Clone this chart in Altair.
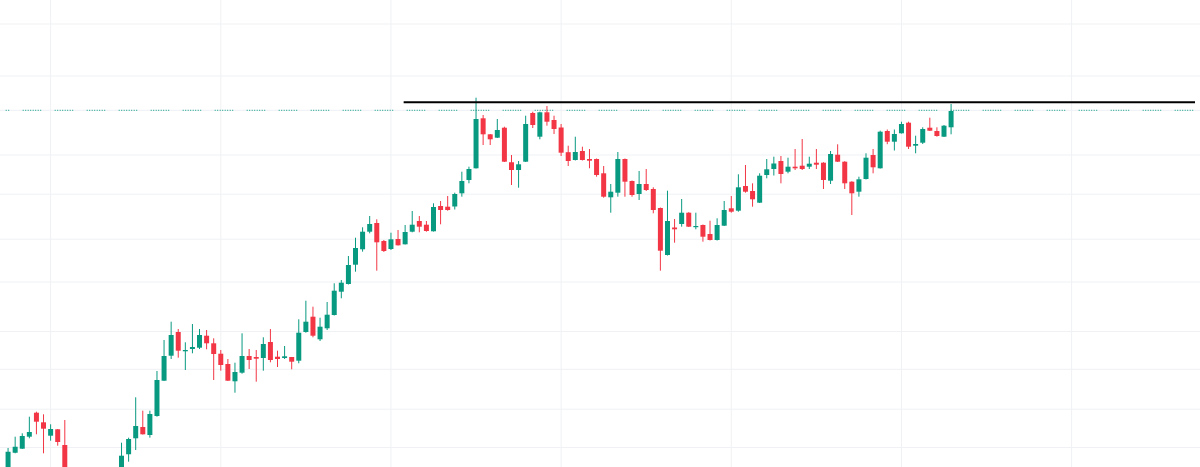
import altair as alt
import pandas as pd

# ---- candle data (index = bar number) ----
opens = [
    28, 47.3, 51.3, 63.3, 87.3, 77.7, 64.3, 70.7, 55, 20,
    5, 15, 0, -10, 2, 13, 28, 45.7, 61.7, 73,
    65, 84, 119.3, 144.3, 168, 148.7, 151, 152.3, 164.3, 156.7,
    146.3, 136, 118.7, 127.3, 144, 143, 142, 158, 143.3, 142,
    143, 139.3, 168, 183.3, 160.7, 171.7, 185, 208.3, 216, 235.3,
    250.7, 268.3, 277, 259, 251, 261, 255.7, 268.3, 279, 275.3,
    268.7, 294, 293.3, 293.5, 306.7, 320, 331.7, 381.7, 365.7, 362.3,
    372.3, 337.7, 330, 338.3, 387, 363.3, 387.7, 380, 372.5, 347.8,
    340, 349, 341, 341, 326.7, 302.7, 307.3, 341, 319, 306,
    316, 311, 292, 245, 272.5, 276, 287.3, 272.8, 275, 266,
    260, 274.3, 291.7, 289.3, 314, 309, 297.3, 325, 331, 339,
    328.3, 333.3, 334.3, 333.3, 337.3, 337.3, 319.3, 345.3, 338.3, 318.3,
    308.3, 321, 345, 331.7, 369, 358.3, 366.7, 377.3, 354.3, 357.3,
    372.3, 369, 363.3, 372.7,
]
highs = [
    52, 63.3, 66.7, 83.3, 88.3, 85.7, 75.7, 71, 80, 25,
    20, 18, 5, 10, 20, 30, 57.3, 62.3, 102.7, 89.3,
    89.3, 129, 160, 178.3, 171, 157.7, 176, 171, 170, 161.7,
    150, 141, 137.3, 166.7, 151, 150, 162.7, 171, 149.3, 154,
    143, 180.7, 199.3, 193.3, 182.3, 198, 216.7, 220, 244, 262.3,
    272.7, 284, 280.7, 260, 267.3, 270, 275, 289, 284, 279,
    296.7, 299, 304, 307.3, 328.3, 333.3, 402.3, 385, 366, 381,
    373.3, 345, 339, 384.3, 388.3, 388.3, 394, 384.3, 376, 354.3,
    363.3, 353.3, 351, 341.5, 334, 316, 348, 341.5, 319.5, 329,
    331, 312.7, 292.5, 309.3, 281, 301, 287.8, 287.3, 275.5, 279.3,
    281.7, 299, 304, 325.7, 335, 316.7, 326.7, 341, 343.3, 344,
    342.3, 351, 361, 343.3, 351, 337.8, 349, 355.7, 338.8, 318.8,
    323.3, 346.7, 351, 369.3, 370.5, 370.5, 378.3, 378.3, 364.3, 372.7,
    382.3, 372.7, 375, 396,
]
lows = [
    25, 46.7, 51, 61.7, 65.7, 46.7, 59.3, 54.3, 15, 0,
    0, -10, -20, -15, -2, 10, 26, 38.3, 50, 65.5,
    62.3, 83.3, 119, 141, 142.3, 130, 146.7, 151, 150.7, 120,
    129.3, 119, 107.3, 126.3, 131, 118.3, 129.3, 137.7, 133, 141,
    130.7, 136.7, 167.3, 162.7, 159, 170, 184.5, 201.7, 215.5, 228.3,
    248.3, 266.7, 229.3, 248, 250, 254.5, 255.5, 267.7, 267.7, 268.3,
    268.5, 275.7, 289.3, 290.5, 303.3, 316.7, 331.5, 355, 355, 362,
    338, 315, 312.3, 338, 372, 360.7, 374.3, 366, 344, 334,
    339.5, 339.5, 331.7, 323.3, 302.3, 287.3, 303.3, 303.3, 303.3, 300,
    309, 286.7, 229.3, 244.5, 257.3, 273.3, 273, 270.7, 258.3, 259.5,
    259.5, 274, 287.3, 288.3, 307.3, 293.3, 297, 321.7, 324.5, 316.7,
    326.7, 330, 330, 331, 331, 311, 316, 338, 311, 285,
    303.3, 320.5, 326.7, 331.5, 355.8, 349.5, 366.5, 351, 346.7, 356,
    369, 363.3, 363, 365.7,
]
closes = [
    48.3, 53.3, 64, 68, 78.3, 71.3, 71, 58, 20, 5,
    15, -5, -15, 5, 15, 28, 44.3, 61, 74, 65.7,
    86, 120, 144, 165, 149.3, 150, 153, 165, 156.7, 146,
    135, 119.3, 128, 144, 140, 141.3, 156, 140, 141, 143.7,
    138.3, 167.3, 178.3, 164.3, 173.3, 185.3, 209.3, 217.3, 235, 252,
    268.3, 276, 257.7, 249, 260.7, 254.7, 268, 275.3, 273.3, 269,
    293, 290, 290, 306, 319, 331, 381, 365.7, 360.7, 370,
    338.3, 330, 335.7, 376, 375, 387.7, 378.3, 371, 347.3, 339,
    348, 340, 339.3, 325, 303.3, 308.3, 341, 318.3, 305, 316,
    310, 290, 249.3, 279, 270.7, 287.3, 273.3, 274, 263.3, 260,
    275, 290, 288.3, 312.7, 308.3, 300.7, 324.3, 330.7, 336.5, 326,
    333.3, 331.7, 331, 336.3, 335.3, 320, 346, 338.3, 316.7, 306.7,
    320.7, 342.3, 332.7, 368.3, 358.3, 366, 376, 353.3, 356, 371,
    369.3, 364, 374.3, 389,
]

grid_x = [6, 30, 54, 78, 102, 126, 150]
grid_y = [476, 424, 389.7, 345, 305.8, 260.8, 218, 168.5, 130.7, 90.8, 52.5]
resistance_level = [397.7]
resistance_start = [55.79]
last_price = [389.7]

X_DOMAIN = [-0.4336, 167.4]
Y_DOMAIN = [33, 500]

UP = "#089981"
DOWN = "#f23645"
GRID = "#eff1f4"

df = pd.DataFrame({
    "idx": list(range(len(opens))),
    "open": opens, "high": highs, "low": lows, "close": closes,
})
df["dir"] = ["up" if c >= o else "down" for o, c in zip(opens, closes)]

xs = alt.Scale(domain=X_DOMAIN, nice=False, zero=False)
ys = alt.Scale(domain=Y_DOMAIN, nice=False, zero=False)
col = alt.Color("dir:N", scale=alt.Scale(domain=["up", "down"], range=[UP, DOWN]), legend=None)

vgrid = alt.Chart(pd.DataFrame({"g": grid_x})).mark_rule(color=GRID, strokeWidth=1).encode(
    x=alt.X("g:Q", scale=xs, axis=None))
hgrid = alt.Chart(pd.DataFrame({"g": grid_y})).mark_rule(color=GRID, strokeWidth=1).encode(
    y=alt.Y("g:Q", scale=ys, axis=None))

base = alt.Chart(df)
wicks = base.mark_rule(strokeWidth=1, clip=True).encode(
    x=alt.X("idx:Q", scale=xs, axis=None),
    y=alt.Y("low:Q", scale=ys, axis=None),
    y2="high:Q",
    color=col,
)
bodies = base.mark_bar(size=5, clip=True).encode(
    x=alt.X("idx:Q", scale=xs, axis=None),
    y=alt.Y("open:Q", scale=ys, axis=None),
    y2="close:Q",
    color=col,
)

price_df = pd.DataFrame({"p": last_price, "x0": [X_DOMAIN[0]], "x1": [X_DOMAIN[1]]})
price_line = alt.Chart(price_df).mark_rule(
    color=UP, strokeWidth=1,
    strokeDash=[1, 1.5, 1, 1.5, 1, 1.5, 1, 1.5, 1, 1.5, 1, 1.5, 1, 1.5, 1, 13.5],
    strokeDashOffset=14.3,
).encode(
    x=alt.X("x0:Q", scale=xs, axis=None), x2="x1:Q",
    y=alt.Y("p:Q", scale=ys, axis=None),
)

res_df = pd.DataFrame({"p": resistance_level, "x0": resistance_start, "x1": [X_DOMAIN[1]]})
res_line = alt.Chart(res_df).mark_rule(color="#000000", strokeWidth=2).encode(
    x=alt.X("x0:Q", scale=xs, axis=None), x2="x1:Q",
    y=alt.Y("p:Q", scale=ys, axis=None),
)

chart = alt.layer(vgrid, hgrid, price_line, wicks, bodies, res_line).properties(
    width=1200, height=467, padding=0, autosize="none", background="#ffffff",
).configure_view(stroke=None)

chart.save("out.html", embed_options={"renderer": "svg", "actions": False})
